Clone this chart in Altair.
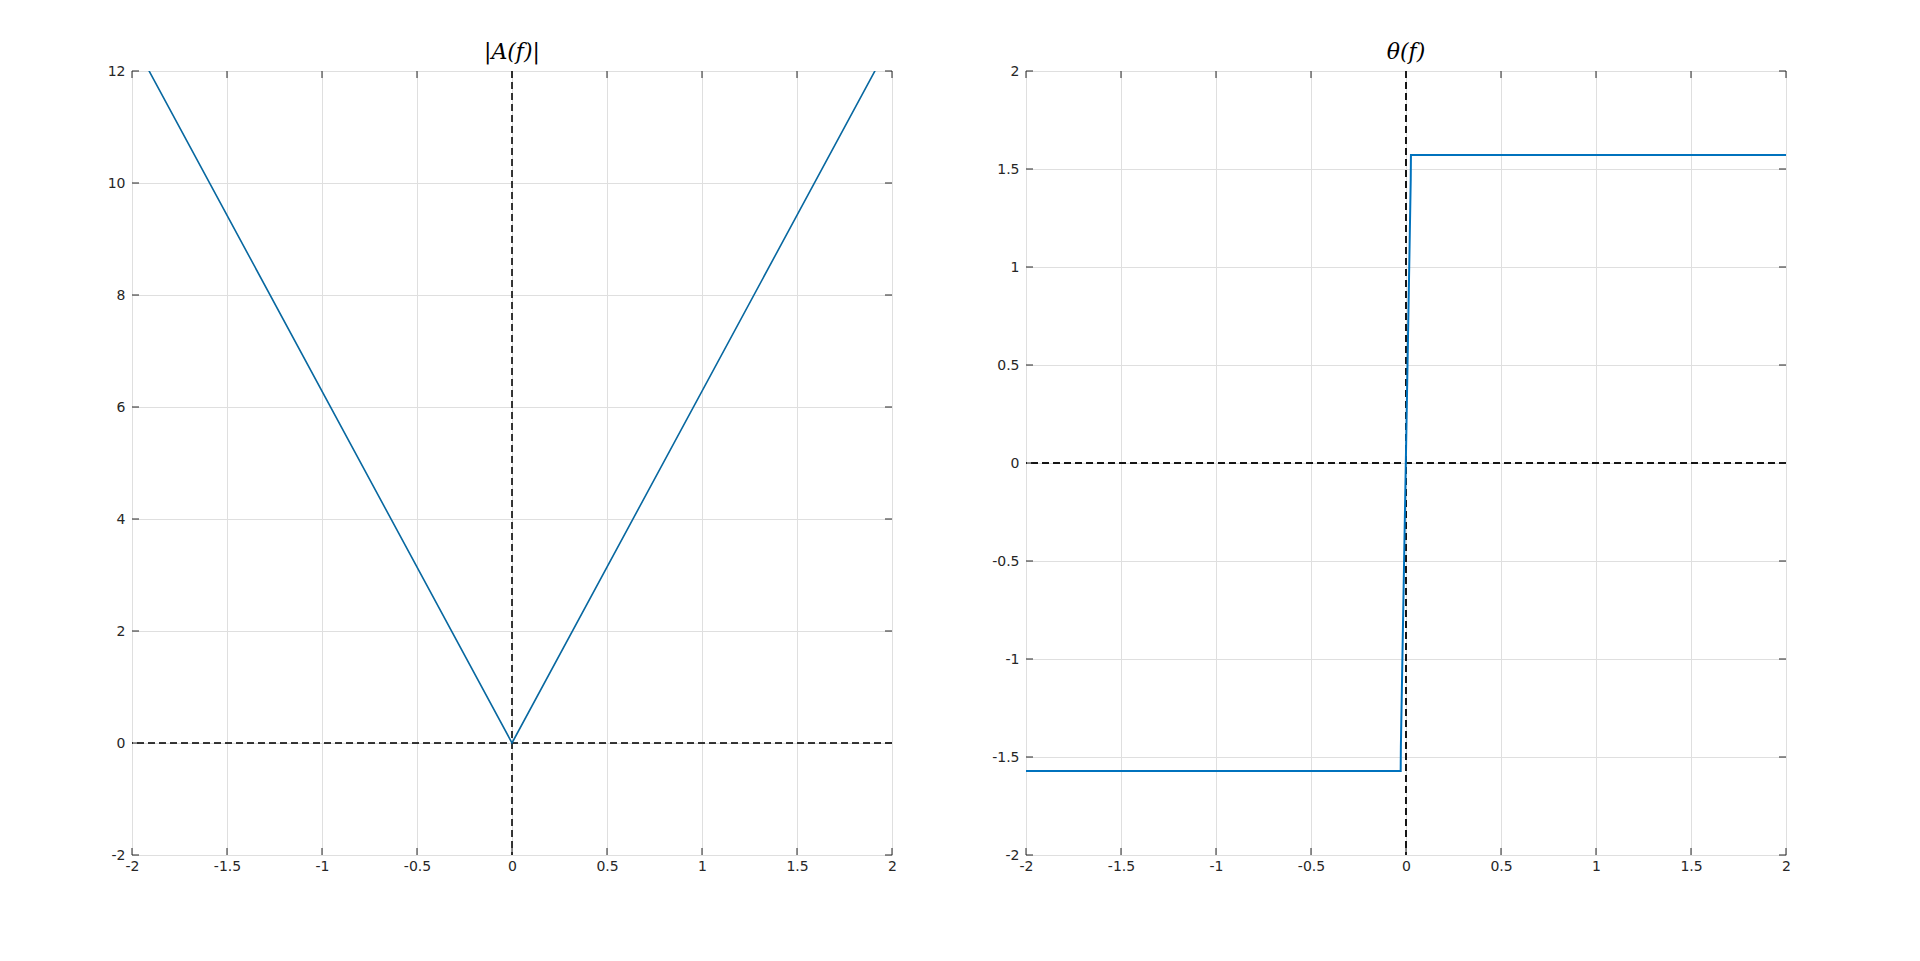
import altair as alt
import pandas as pd

# ---- data ----
amp_f = [-2.0, 0.0, 2.0]
amp_v = [12.566, 0.0, 12.566]

th_f = [-2.0, -0.028, -0.027, 0.025, 0.026, 2.0]
th_v = [-1.5708, -1.5708, -1.45, 1.45, 1.5708, 1.5708]

x_ticks = [-2, -1.5, -1, -0.5, 0, 0.5, 1, 1.5, 2]
yA_ticks = [-2, 0, 2, 4, 6, 8, 10, 12]
yT_ticks = [-2, -1.5, -1, -0.5, 0, 0.5, 1, 1.5, 2]

W, H = 760, 784
TICK = 7
LINE_COLOR = "#0072BD"
AX_COLOR = "#262626"

lab_expr = "'' + datum.value"


def panel(fvals, vvals, ydom, yticks, title, lw, color):
    df = pd.DataFrame({"f": fvals, "v": vvals})
    xs = alt.Scale(domain=[-2, 2], nice=False, zero=False)
    ys = alt.Scale(domain=ydom, nice=False, zero=False)
    xax = alt.Axis(values=x_ticks, labelExpr=lab_expr, grid=True, gridColor="#dfdfdf",
                   tickSize=0, domain=False, labelFlush=False, labelPadding=4,
                   labelFont="DejaVu Sans", labelFontSize=14, labelColor=AX_COLOR,
                   title=None, minExtent=30, maxExtent=30, labelOverlap=False)
    yax = alt.Axis(values=yticks, labelExpr=lab_expr, grid=True, gridColor="#dfdfdf",
                   tickSize=0, domain=False, labelFlush=False, labelPadding=7,
                   labelFont="DejaVu Sans", labelFontSize=14, labelColor=AX_COLOR,
                   title=None, minExtent=30, maxExtent=30, labelOverlap=False)

    line = alt.Chart(df).mark_line(color=color, strokeWidth=lw, clip=True).encode(
        x=alt.X("f:Q", scale=xs, axis=xax),
        y=alt.Y("v:Q", scale=ys, axis=yax),
    )
    vzero = alt.Chart(df).mark_rule(color="#111111", strokeDash=[7, 4], strokeWidth=0.9).encode(
        x=alt.datum(0, scale=xs))
    hzero = alt.Chart(df).mark_rule(color="#111111", strokeDash=[7, 4], strokeWidth=0.9).encode(
        y=alt.datum(0, scale=ys))

    xt = pd.DataFrame({"t": x_ticks})
    yt = pd.DataFrame({"t": yticks})
    bot = alt.Chart(xt).mark_rule(color=AX_COLOR, strokeWidth=1).encode(
        x=alt.X("t:Q", scale=xs), y=alt.value(H - TICK), y2=alt.value(H))
    top = alt.Chart(xt).mark_rule(color=AX_COLOR, strokeWidth=1).encode(
        x=alt.X("t:Q", scale=xs), y=alt.value(0), y2=alt.value(TICK))
    lef = alt.Chart(yt).mark_rule(color=AX_COLOR, strokeWidth=1).encode(
        y=alt.Y("t:Q", scale=ys), x=alt.value(0), x2=alt.value(TICK))
    rig = alt.Chart(yt).mark_rule(color=AX_COLOR, strokeWidth=1).encode(
        y=alt.Y("t:Q", scale=ys), x=alt.value(W - TICK), x2=alt.value(W))

    return alt.layer(vzero, hzero, line, bot, top, lef, rig).properties(
        width=W, height=H,
        title=alt.TitleParams(title, font="DejaVu Serif", fontStyle="italic",
                              fontWeight="normal", fontSize=22, color="black",
                              anchor="middle", offset=0),
    )


left = panel(amp_f, amp_v, [-2, 12], yA_ticks, "|A(f)|", 1.6, "#0868a0")
right = panel(th_f, th_v, [-2, 2], yT_ticks, "θ(f)", 2, LINE_COLOR)

chart = alt.hconcat(left, right, spacing=94).properties(
    padding={"left": 93, "top": 32, "right": 5, "bottom": 5}
).configure_view(stroke=AX_COLOR, strokeWidth=1).configure(background="white")

chart.save("out.html", embed_options={"renderer": "svg", "actions": False})
